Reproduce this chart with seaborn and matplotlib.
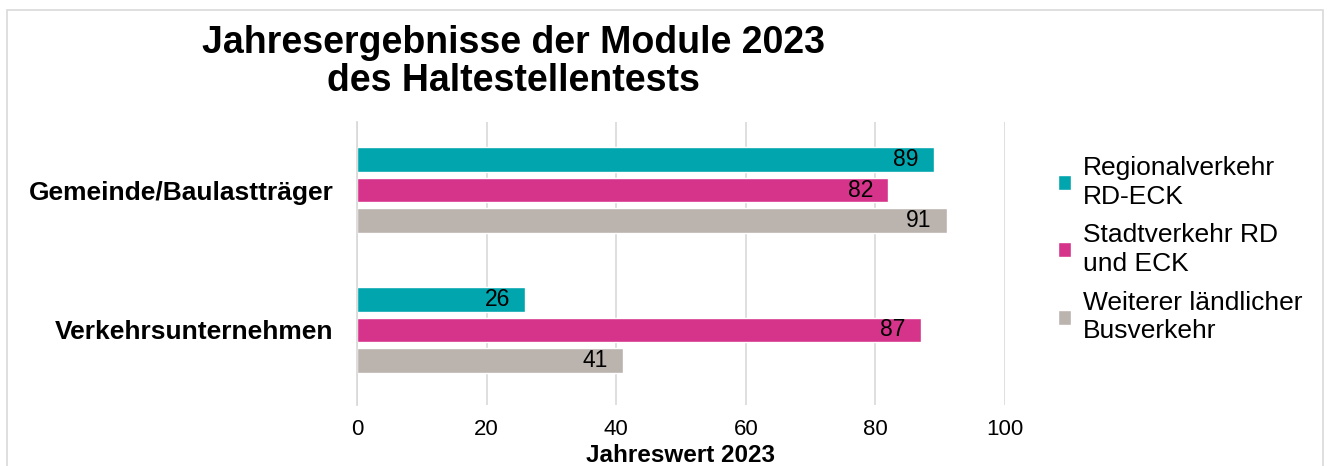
"""Jahresergebnisse der Module 2023 des Haltestellentests (horizontal grouped bars)."""
import matplotlib.pyplot as plt
import pandas as pd
import seaborn as sns
from matplotlib.patches import Rectangle

CATEGORIES = ["Gemeinde/Baulastträger", "Verkehrsunternehmen"]
SERIES = ["Regionalverkehr\nRD-ECK", "Stadtverkehr RD\nund ECK", "Weiterer ländlicher\nBusverkehr"]
REGIONAL = [89, 26]
STADT = [82, 87]
LAENDLICH = [91, 41]
COLORS = ["#00A5AD", "#D6338A", "#BBB3AD"]
X_TICKS = [0, 20, 40, 60, 80, 100]

df = pd.DataFrame({
    "Kategorie": CATEGORIES * 3,
    "Serie": [SERIES[0]] * 2 + [SERIES[1]] * 2 + [SERIES[2]] * 2,
    "Wert": REGIONAL + STADT + LAENDLICH,
})

sns.set_theme(style="white", rc={"text.color": "black", "axes.labelcolor": "black",
                                 "xtick.color": "black", "ytick.color": "black"})
plt.rcParams["font.family"] = ["Liberation Sans", "DejaVu Sans"]

fig = plt.figure(figsize=(13.3, 4.66), dpi=100)
ax = fig.add_axes([357 / 1330, 1 - 405 / 466, (1005 - 357) / 1330, (405 - 122) / 466])

sns.barplot(data=df, y="Kategorie", x="Wert", hue="Serie", orient="h",
            palette=COLORS, saturation=1, width=0.66, gap=0.19, ax=ax, legend=True)

# value labels at the inner end of each bar
for cont in ax.containers:
    for p in cont:
        ax.annotate(f"{p.get_width():.0f}", (p.get_width(), p.get_y() + p.get_height() / 2),
                    xytext=(-11, 0), textcoords="offset points", ha="right", va="center",
                    fontsize=16.5, color="black")

ax.set_xlim(0, 100)
ax.set_ylim(1.536, -0.486)
ax.set_xticks(X_TICKS)
ax.tick_params(axis="x", labelsize=16, length=0, pad=10)
ax.tick_params(axis="y", labelsize=19, length=0, pad=17)
for lbl in ax.get_yticklabels():
    lbl.set_fontweight("bold")
ax.set_ylabel("")
ax.set_xlabel("Jahreswert 2023", fontsize=17.5, fontweight="bold", labelpad=3)
ax.grid(axis="x", color="#D9D9D9", linewidth=1.2)
ax.set_axisbelow(True)
for side in ["top", "right", "bottom"]:
    ax.spines[side].set_visible(False)
ax.spines["left"].set_color("#D9D9D9")

leg = ax.legend(loc="upper left", bbox_to_anchor=(1058 / 1330, 1 - 156 / 466),
                bbox_transform=fig.transFigure, frameon=False, fontsize=19,
                handlelength=0.5, handleheight=0.5, handletextpad=0.45, labelspacing=0.55,
                borderaxespad=0, borderpad=0)
for t in leg.get_texts():
    t.set_linespacing(1.25)

fig.text(0.386, 1 - 62 / 466, "Jahresergebnisse der Module 2023\ndes Haltestellentests",
         ha="center", va="center", fontsize=27, fontweight="bold", linespacing=1.06)

fig.patches.append(Rectangle((7 / 1330, -0.01), 1316 / 1330, 1 - 10 / 466 + 0.01,
                             transform=fig.transFigure, fill=False, edgecolor="#D9D9D9",
                             linewidth=1.2))

fig.savefig("out.png", dpi=100)
